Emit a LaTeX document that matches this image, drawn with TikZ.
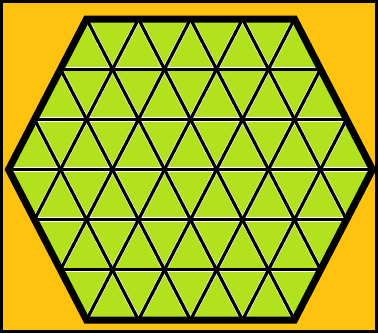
\documentclass[tikz,border=0pt]{standalone}
\usepackage{tikz}
\usetikzlibrary{calc}
\definecolor{bgorange}{RGB}{255,194,14}
\definecolor{tilegreen}{RGB}{178,226,30}

\begin{document}
\begin{tikzpicture}[x=1pt,y=-1pt]
    \def\s{52}
    \def\h{50.17}
    \fill[black] (0,0) rectangle (378,333);
    \fill[bgorange] (3,3) rectangle (375,330);
    \coordinate (A) at (86.5,19);
    \coordinate (B) at ($(A)+(4*\s,0)$);
    \coordinate (C) at ($(B)+(1.5*\s,3*\h)$);
    \coordinate (D) at ($(B)+(0,6*\h)$);
    \coordinate (E) at ($(A)+(0,6*\h)$);
    \coordinate (F) at ($(A)+(-1.5*\s,3*\h)$);
    \fill[tilegreen] (A) -- (B) -- (C) -- (D) -- (E) -- (F) -- cycle;
    \begin{scope}
        \clip (A) -- (B) -- (C) -- (D) -- (E) -- (F) -- cycle;
        \foreach \col/\lw in {white/4.4pt, black/3.2pt} {
            \foreach \j in {1,...,5}
                \draw[draw=\col, line width=\lw] ($(A)+(-100,\j*\h)$) -- ++(400,0);
            \foreach \i in {-3,...,4}
                \draw[draw=\col, line width=\lw] ($(A)+(\i*\s,0)$) -- ++(3*\s,6*\h);
            \foreach \i in {0,...,7}
                \draw[draw=\col, line width=\lw] ($(A)+(\i*\s,0)$) -- ++(-3*\s,6*\h);
        }
    \end{scope}
    \draw[line width=7pt, line join=miter] (A) -- (B) -- (C) -- (D) -- (E) -- (F) -- cycle;
\end{tikzpicture}
\end{document}
